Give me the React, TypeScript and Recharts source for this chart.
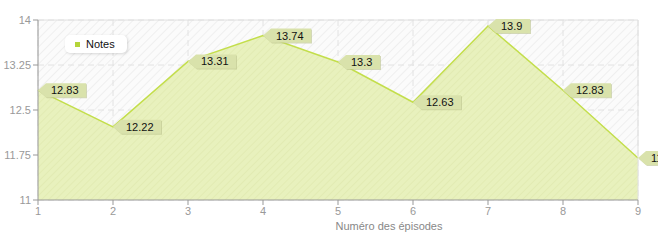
import { Area, AreaChart, CartesianGrid, LabelList, ReferenceLine, XAxis, YAxis } from 'recharts';

const episodes = [1, 2, 3, 4, 5, 6, 7, 8, 9];
const notes = [12.83, 12.22, 13.31, 13.74, 13.3, 12.63, 13.9, 12.83, 11.7];
const yTicks = [11, 11.75, 12.5, 13.25, 14];

const data = episodes.map((ep, i) => ({ ep, notes: notes[i] }));

const FONT = '"Liberation Sans", Arial, sans-serif';

const PointLabel = (props: any) => {
  const { x, y, value } = props;
  if (x == null || y == null) return null;
  const text = String(value);
  const w = text.length * 6 + 9;
  const h = 14;
  const path = (dx: number, dy: number) =>
    `M${x + dx},${y + dy} L${x + 8 + dx},${y - h / 2 + dy} L${x + 9 + w + dx},${y - h / 2 + dy} L${x + 9 + w + dx},${y + h / 2 + dy} L${x + 8 + dx},${y + h / 2 + dy} Z`;
  return (
    <g>
      <path d={path(1, 1)} fill="#b9c28a" opacity={0.6} />
      <path d={path(0, 0)} fill="#d9e2ab" />
      <text x={x + 13} y={y + 4} fontSize={11} fontFamily={FONT} fill="#111">
        {text}
      </text>
    </g>
  );
};

const AxisTitle = (props: any) => {
  const { viewBox } = props;
  if (!viewBox) return null;
  return (
    <text
      x={viewBox.x + viewBox.width / 2 + 51}
      y={viewBox.y + viewBox.height + 2}
      textAnchor="middle"
      fontSize={11}
      fontFamily={FONT}
      fill="#888"
    >
      Numéro des épisodes
    </text>
  );
};

const LegendBox = () => (
  <div
    style={{
      position: 'absolute',
      left: 65,
      top: 35,
      width: 62,
      height: 18,
      background: '#fff',
      borderRadius: 5,
      boxShadow: '1px 1px 3px rgba(0,0,0,0.15)',
      display: 'flex',
      alignItems: 'center',
      fontFamily: FONT,
      fontSize: 11,
      color: '#111',
    }}
  >
    <span style={{ width: 5, height: 5, background: '#b5d53a', marginLeft: 10, marginRight: 6 }} />
    Notes
  </div>
);

export default function App() {
  return (
    <div style={{ position: 'absolute', left: 0, top: 0, width: 658, height: 240, background: '#fff' }}>
      <AreaChart width={658} height={240} data={data} margin={{ top: 20, right: 20, left: 0, bottom: 12 }}>
        <defs>
          <pattern id="bgHatch" width="6" height="6" patternUnits="userSpaceOnUse" patternTransform="rotate(45)">
            <rect width="6" height="6" fill="#fbfbfb" />
            <line x1="0" y1="0" x2="0" y2="6" stroke="#ececec" strokeWidth="1.5" />
          </pattern>
          <pattern id="areaHatch" width="5" height="5" patternUnits="userSpaceOnUse" patternTransform="rotate(45)">
            <rect width="5" height="5" fill="#e8f1bd" />
            <line x1="0" y1="0" x2="0" y2="5" stroke="#e0eab0" strokeWidth="1.5" />
          </pattern>
        </defs>
        <CartesianGrid fill="url(#bgHatch)" stroke="#e2e2e2" strokeDasharray="6 4" />
        <ReferenceLine y={14} stroke="#e0e0e0" />
        <ReferenceLine x={9} stroke="#e0e0e0" />
        <XAxis
          dataKey="ep"
          type="number"
          domain={[1, 9]}
          ticks={episodes}
          stroke="#999"
          tickLine={{ stroke: '#999' }}
          tickSize={5}
          tick={{ fill: '#999', fontSize: 11, fontFamily: FONT }}
          height={28}
          label={<AxisTitle />}
        />
        <YAxis
          type="number"
          domain={[11, 14]}
          ticks={yTicks}
          width={38}
          stroke="#999"
          tickLine={{ stroke: '#999' }}
          tickSize={5}
          tick={{ fill: '#999', fontSize: 11, fontFamily: FONT }}
        />
        <Area
          type="linear"
          dataKey="notes"
          name="Notes"
          stroke="#c3de4b"
          strokeWidth={1.5}
          fill="url(#areaHatch)"
          fillOpacity={1}
          dot={false}
          activeDot={false}
          baseValue={11}
          isAnimationActive={false}
        >
          <LabelList dataKey="notes" content={<PointLabel />} />
        </Area>
      </AreaChart>
      <LegendBox />
    </div>
  );
}
